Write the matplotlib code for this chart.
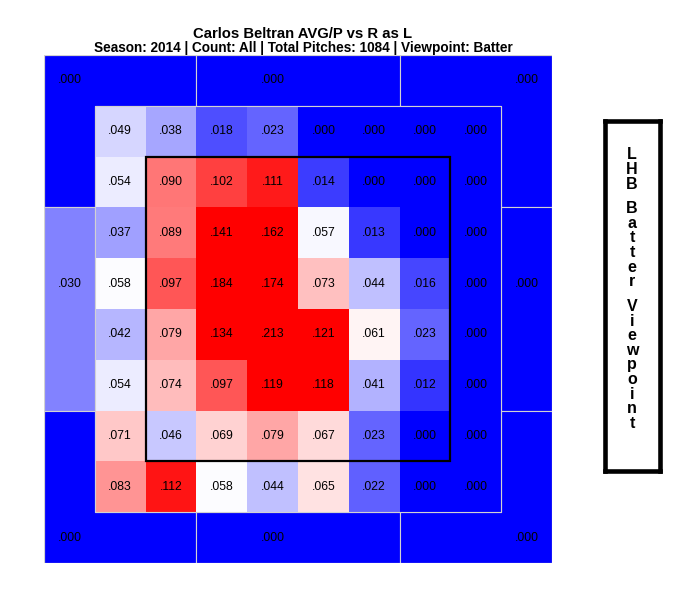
import matplotlib
matplotlib.use("Agg")
import matplotlib.pyplot as plt
import numpy as np
from matplotlib.colors import LinearSegmentedColormap, Normalize
from matplotlib.patches import Polygon, Rectangle

plt.rcParams['font.family'] = ['Liberation Sans', 'DejaVu Sans']

# ---------------- data ----------------
title = "Carlos Beltran AVG/P vs R as L"
subtitle = "Season: 2014 | Count: All | Total Pitches: 1084 | Viewpoint: Batter"
side_label = "LHB Batter Viewpoint"

inner_values = [
    [.049, .038, .018, .023, .000, .000, .000, .000],
    [.054, .090, .102, .111, .014, .000, .000, .000],
    [.037, .089, .141, .162, .057, .013, .000, .000],
    [.058, .097, .184, .174, .073, .044, .016, .000],
    [.042, .079, .134, .213, .121, .061, .023, .000],
    [.054, .074, .097, .119, .118, .041, .012, .000],
    [.071, .046, .069, .079, .067, .023, .000, .000],
    [.083, .112, .058, .044, .065, .022, .000, .000],
]

outer_names = ["top-left", "top", "top-right", "left", "right",
               "bottom-left", "bottom", "bottom-right"]
outer_values = [.000, .000, .000, .030, .000, .000, .000, .000]

# ---------------- layout ----------------
zone_shapes = {
    "top-left": [(0, 0), (3, 0), (3, 1), (1, 1), (1, 3), (0, 3)],
    "top": [(3, 0), (7, 0), (7, 1), (3, 1)],
    "top-right": [(7, 0), (10, 0), (10, 3), (9, 3), (9, 1), (7, 1)],
    "left": [(0, 3), (1, 3), (1, 7), (0, 7)],
    "right": [(9, 3), (10, 3), (10, 7), (9, 7)],
    "bottom-left": [(0, 7), (1, 7), (1, 9), (3, 9), (3, 10), (0, 10)],
    "bottom": [(3, 9), (7, 9), (7, 10), (3, 10)],
    "bottom-right": [(9, 7), (10, 7), (10, 10), (7, 10), (7, 9), (9, 9)],
}
zone_label_pos = {
    "top-left": (0.5, 0.5), "top": (4.5, 0.5), "top-right": (9.5, 0.5),
    "left": (0.5, 4.5), "right": (9.5, 4.5),
    "bottom-left": (0.5, 9.5), "bottom": (4.5, 9.5), "bottom-right": (9.5, 9.5),
}

W, H = 688, 596
fig = plt.figure(figsize=(W / 100, H / 100), dpi=100)
fig.patch.set_facecolor("white")

L, R, T, B = 44, 552, 55, 563
ax = fig.add_axes([L / W, 1 - B / H, (R - L) / W, (B - T) / H])
ax.set_xlim(0, 10)
ax.set_ylim(10, 0)
ax.axis("off")

cmap = LinearSegmentedColormap.from_list("bwr_custom", [(0, 0, 1), (1, 1, 1), (1, 0, 0)])
norm = Normalize(vmin=0.0, vmax=0.117)
grid_color = "#d2d2d2"

def fmt(v):
    return f"{v:.3f}"[1:]

# outer zones
for name, val in zip(outer_names, outer_values):
    poly = Polygon(zone_shapes[name], closed=True, facecolor=cmap(norm(val)),
                   edgecolor=grid_color, linewidth=0.8, zorder=1)
    ax.add_patch(poly)
    x, y = zone_label_pos[name]
    ax.text(x, y, fmt(val), ha="center", va="center", fontsize=8.7, color="black", zorder=5)

# inner grid
vals = np.array(inner_values)
xe = np.arange(1, 10)
ye = np.arange(1, 10)
ax.pcolormesh(xe, ye, vals, cmap=cmap, norm=norm, shading="flat", zorder=2)
for i in range(vals.shape[0]):
    for j in range(vals.shape[1]):
        ax.text(j + 1.5, i + 1.5, fmt(vals[i, j]), ha="center", va="center",
                fontsize=8.7, color="black", zorder=5)

ax.add_patch(Rectangle((1, 1), 8, 8, fill=False, edgecolor=grid_color, linewidth=0.8, zorder=3))
ax.add_patch(Rectangle((0, 0), 10, 10, fill=False, edgecolor=grid_color, linewidth=0.8, zorder=3))
# strike zone
ax.add_patch(Rectangle((2, 2), 6, 6, fill=False, edgecolor="black", linewidth=1.6, zorder=4))

# titles
fig.text(303 / W, 1 - 37.5 / H, title, ha="center", va="baseline",
         fontsize=10.7, fontweight="bold")
fig.text(303 / W, 1 - 52 / H, subtitle, ha="center", va="baseline",
         fontsize=9.8, fontweight="bold")

# side box
bx0, bx1, by0, by1 = 604.5, 659.5, 120.5, 470.5
bax = fig.add_axes([bx0 / W, 1 - by1 / H, (bx1 - bx0) / W, (by1 - by0) / H])
bax.set_xticks([])
bax.set_yticks([])
for s in bax.spines.values():
    s.set_linewidth(3.3)
    s.set_color("black")

y = 159.5
for ch in side_label:
    if ch == " ":
        y += 10
        continue
    fig.text(632 / W, 1 - y / H, ch, ha="center", va="baseline",
             fontsize=11.5, fontweight="bold")
    y += 14.6

fig.savefig("out.png", dpi=100)
